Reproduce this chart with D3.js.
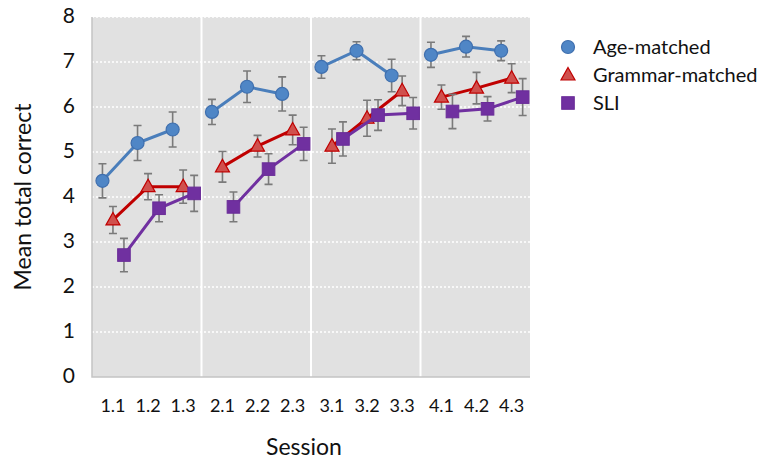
<!DOCTYPE html>
<html>
<head>
<meta charset="utf-8">
<script src="https://cdn.jsdelivr.net/npm/d3@7"></script>
<style>
  body { margin: 0; background: #fff; }
  text { font-family: Lato, "Open Sans", sans-serif; fill: #111; }
</style>
</head>
<body>
<svg id="chart" width="769" height="461"></svg>
<script>
// data
let sessions = ['1', '2', '3', '4'];
let parts = ['1', '2', '3'];
let yTicks = [0, 1, 2, 3, 4, 5, 6, 7, 8];

let ageMean = [4.36, 5.2, 5.5, 5.89, 6.45, 6.29, 6.89, 7.25, 6.7, 7.16, 7.34, 7.25];
let ageErr = [0.38, 0.39, 0.39, 0.28, 0.35, 0.38, 0.25, 0.2, 0.36, 0.28, 0.23, 0.22];
let grammarMean = [3.49, 4.23, 4.23, 4.67, 5.13, 5.49, 5.13, 5.75, 6.36, 6.22, 6.42, 6.64];
let grammarErr = [0.3, 0.29, 0.37, 0.34, 0.24, 0.33, 0.38, 0.4, 0.33, 0.27, 0.35, 0.32];
let sliMean = [2.71, 3.75, 4.08, 3.78, 4.62, 5.18, 5.29, 5.82, 5.86, 5.9, 5.96, 6.22];
let sliErr = [0.37, 0.3, 0.4, 0.33, 0.34, 0.37, 0.38, 0.34, 0.35, 0.38, 0.27, 0.41];

let seriesNames = ['Age-matched', 'Grammar-matched', 'SLI'];

let svg = d3.select('#chart');
let plotLeft = 92, plotRight = 530, plotTop = 17, plotBottom = 377;

let x = d3.scaleBand().domain(sessions).range([plotLeft, plotRight]).padding(0);
let xi = d3.scalePoint().domain(parts).range([0, x.bandwidth()]).padding(0.56);
let y = d3.scaleLinear().domain([0, 8]).range([plotBottom, plotTop]);

function cx(i) {
	let s = sessions[Math.floor(i / 3)], p = parts[i % 3];
	return x(s) + xi(p) + 1.3;
}

// plot background
svg.append('rect')
	.attr('x', plotLeft).attr('y', plotTop)
	.attr('width', plotRight - plotLeft).attr('height', plotBottom - plotTop)
	.attr('fill', '#e1e1e1');

// horizontal dotted grid
svg.append('g').selectAll('line')
	.data(yTicks.filter(function (d) { return d > 0; }))
	.enter().append('line')
	.attr('x1', plotLeft).attr('x2', plotRight)
	.attr('y1', function (d) { return y(d); })
	.attr('y2', function (d) { return y(d); })
	.attr('stroke', '#fff')
	.attr('stroke-width', 1.5)
	.attr('stroke-dasharray', '2,2');

// panel separators
svg.append('g').selectAll('line')
	.data(sessions.slice(1))
	.enter().append('line')
	.attr('x1', function (d) { return x(d); })
	.attr('x2', function (d) { return x(d); })
	.attr('y1', plotTop).attr('y2', plotBottom)
	.attr('stroke', '#fff')
	.attr('stroke-width', 2);

// left and bottom border
svg.append('path')
	.attr('d', 'M' + plotLeft + ',' + plotTop + 'V' + plotBottom + 'H' + plotRight)
	.attr('fill', 'none')
	.attr('stroke', '#c4c4c4')
	.attr('stroke-width', 1.5);

// y axis labels
let yAxis = d3.axisLeft(y).tickValues(yTicks).tickSize(0).tickPadding(0);
svg.append('g')
	.attr('transform', 'translate(75,0)')
	.call(yAxis)
	.call(function (g) { g.select('.domain').remove(); })
	.selectAll('text')
	.attr('font-size', 21)
	.attr('dy', '0.26em')
	.style('font-family', 'Lato, sans-serif')
	.attr('fill', '#111');

// x tick labels
let xLabels = [];
sessions.forEach(function (s) { parts.forEach(function (p) { xLabels.push(s + '.' + p); }); });
svg.append('g').selectAll('text')
	.data(xLabels)
	.enter().append('text')
	.attr('x', function (d, i) { return cx(i); })
	.attr('y', 412)
	.attr('text-anchor', 'middle')
	.attr('font-size', 18)
	.text(function (d) { return d; });

// axis titles
svg.append('text')
	.attr('x', (plotLeft + plotRight) / 2 - 7)
	.attr('y', 455)
	.attr('text-anchor', 'middle')
	.attr('font-size', 23)
	.text('Session');

svg.append('text')
	.attr('transform', 'translate(31,' + ((plotTop + plotBottom) / 2) + ') rotate(-90)')
	.attr('text-anchor', 'middle')
	.attr('font-size', 23)
	.text('Mean total correct');

// series
let series = [
	{name: seriesNames[0], mean: ageMean, err: ageErr, dx: -10.5, line: '#4a7ebb', fill: '#4f86c6', stroke: '#3f6fae', shape: 'circle'},
	{name: seriesNames[1], mean: grammarMean, err: grammarErr, dx: 0, line: '#c00000', fill: '#d0504d', stroke: '#c00000', shape: 'triangle'},
	{name: seriesNames[2], mean: sliMean, err: sliErr, dx: 11, line: '#7030a0', fill: '#7030a0', stroke: '#6a2c98', shape: 'square'}
];

function drawMarker(g, shape, px, py, s) {
	if (shape == 'circle') {
		g.append('circle')
			.attr('cx', px).attr('cy', py).attr('r', 6.5)
			.attr('fill', s.fill).attr('stroke', s.stroke).attr('stroke-width', 1.2);
	} else if (shape == 'triangle') {
		g.append('path')
			.attr('d', 'M' + px + ',' + (py - 7.5) + 'L' + (px + 7) + ',' + (py + 5) + 'L' + (px - 7) + ',' + (py + 5) + 'Z')
			.attr('fill', s.fill).attr('stroke', s.stroke).attr('stroke-width', 1.2);
	} else {
		g.append('rect')
			.attr('x', px - 6.3).attr('y', py - 6.3).attr('width', 12.6).attr('height', 12.6)
			.attr('fill', s.fill).attr('stroke', s.stroke).attr('stroke-width', 1);
	}
}

let line = d3.line()
	.x(function (d) { return d.x; })
	.y(function (d) { return d.y; });

for (let s of series) {
	let g = svg.append('g');
	for (let k = 0; k < sessions.length; k++) {
		let pts = [];
		for (let j = 0; j < parts.length; j++) {
			let i = k * 3 + j;
			pts.push({x: cx(i) + s.dx, y: y(s.mean[i])});
		}
		g.append('path')
			.attr('d', line(pts))
			.attr('fill', 'none')
			.attr('stroke', s.line)
			.attr('stroke-width', 3);
	}
	// error bars
	s.mean.forEach(function (m, i) {
		let px = cx(i) + s.dx;
		let y1 = y(m + s.err[i]), y2 = y(m - s.err[i]);
		g.append('path')
			.attr('d', 'M' + px + ',' + y1 + 'V' + y2 + 'M' + (px - 4) + ',' + y1 + 'H' + (px + 4) + 'M' + (px - 4) + ',' + y2 + 'H' + (px + 4))
			.attr('fill', 'none')
			.attr('stroke', '#7a7a7a')
			.attr('stroke-width', 1.6);
	});
	s.mean.forEach(function (m, i) {
		drawMarker(g, s.shape, cx(i) + s.dx, y(m), s);
	});
}

// legend
let ly = 47;
for (let s of series) {
	let g = svg.append('g');
	drawMarker(g, s.shape, 568, ly, s);
	g.append('text')
		.attr('x', 593)
		.attr('y', ly + 7)
		.attr('font-size', 20)
		.text(s.name);
	ly += 28;
}
</script>
</body>
</html>
